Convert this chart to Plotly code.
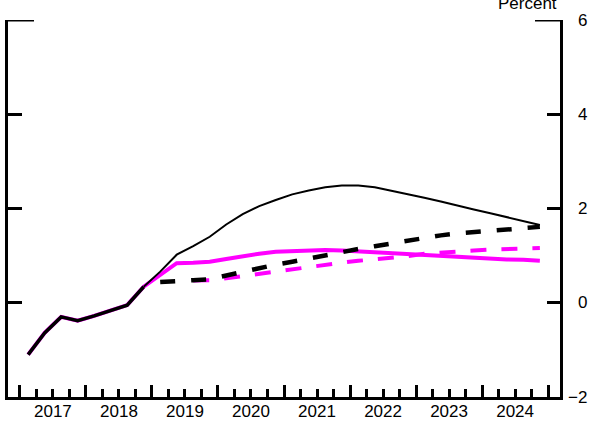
import plotly.graph_objects as go

# ---------------- data (quarterly, percent) ----------------
def quarter_range(start, end):
    out = []
    y, q = int(start[:4]), int(start[5])
    while True:
        lab = f"{y}Q{q}"
        out.append(lab)
        if lab == end:
            break
        q += 1
        if q > 4:
            q, y = 1, y + 1
    return out

hist_quarters = quarter_range("2017Q1", "2018Q4")
history = [-1.1, -0.64, -0.3, -0.38, -0.28, -0.17, -0.05, 0.34]

proj_quarters = quarter_range("2018Q4", "2024Q4")
black_solid = [0.34, 0.66, 1.02, 1.2, 1.4, 1.66, 1.88, 2.05, 2.18, 2.3, 2.38, 2.45,
               2.49, 2.49, 2.45, 2.38, 2.31, 2.23, 2.15, 2.06, 1.98, 1.90, 1.82, 1.73, 1.65]
magenta_solid = [0.34, 0.6, 0.84, 0.85, 0.87, 0.93, 0.99, 1.04, 1.08, 1.1, 1.12, 1.12,
                 1.11, 1.09, 1.07, 1.04, 1.02, 1.0, 0.98, 0.96, 0.95, 0.93, 0.92, 0.91, 0.89]

bdash_quarters = quarter_range("2019Q1", "2024Q4")
black_dashed = [0.44, 0.47, 0.48, 0.5, 0.58, 0.67, 0.74, 0.81, 0.87, 0.94, 1.02, 1.08,
                1.14, 1.2, 1.26, 1.32, 1.37, 1.43, 1.47, 1.5, 1.54, 1.56, 1.58, 1.61]

mdash_quarters = quarter_range("2019Q3", "2024Q4")
magenta_dashed = [0.47, 0.48, 0.52, 0.57, 0.61, 0.67, 0.72, 0.76, 0.8, 0.85, 0.89, 0.92,
                  0.96, 0.99, 1.04, 1.07, 1.09, 1.11, 1.13, 1.14, 1.15, 1.16]

year_labels = ["2017", "2018", "2019", "2020", "2021", "2022", "2023", "2024"]
y_ticks = [-2, 0, 2, 4, 6]
y_ticktext = ["\u22122", "0", "2", "4", "6"]
unit_label = "Percent"


def qx(lab):
    return int(lab[:4]) + (int(lab[5]) - 0.5) / 4.0


MAG = "#FF00FF"
BLK = "#000000"
FONT = "Liberation Sans, Arial, sans-serif"

fig = go.Figure()
fig.add_trace(go.Scatter(x=[qx(q) for q in hist_quarters + proj_quarters[1:]],
                         y=history + magenta_solid[1:], mode="lines",
                         line=dict(color=MAG, width=4), hoverinfo="skip"))
fig.add_trace(go.Scatter(x=[qx(q) for q in mdash_quarters], y=magenta_dashed, mode="lines",
                         line=dict(color=MAG, width=4, dash="16px,15px"), hoverinfo="skip"))
fig.add_trace(go.Scatter(x=[qx(q) for q in bdash_quarters], y=black_dashed, mode="lines",
                         line=dict(color=BLK, width=4.5, dash="15px,16px"), hoverinfo="skip"))
fig.add_trace(go.Scatter(x=[qx(q) for q in proj_quarters], y=black_solid, mode="lines",
                         line=dict(color=BLK, width=2), hoverinfo="skip"))
fig.add_trace(go.Scatter(x=[qx(q) for q in hist_quarters], y=history, mode="lines",
                         line=dict(color=BLK, width=3.5), hoverinfo="skip"))

years = [int(y) for y in year_labels]
xr = [2016.82, 2025.18]
year_bounds = years + [years[-1] + 1]
minor_q = [y + k / 4.0 for y in years for k in (1, 2, 3)]
mid_years = [y + 0.5 for y in years]

# invisible carrier trace so the overlay axes (ticks / right axis) get drawn
fig.add_trace(go.Scatter(x=[mid_years[0]], y=[None], xaxis="x2", yaxis="y2",
                         mode="lines", hoverinfo="skip", showlegend=False))

W, H = 590, 425
ml, mr, mt, mb = 8, 30, 20, 28
pw, ph = W - ml - mr, H - mt - mb

fig.update_layout(
    width=W, height=H, autosize=False,
    margin=dict(l=ml, r=mr, t=mt, b=mb, autoexpand=False),
    paper_bgcolor="white", plot_bgcolor="white",
    showlegend=False,
    font=dict(family=FONT, size=17, color=BLK),
    xaxis=dict(range=xr, showgrid=False, zeroline=False, showline=False,
               tickmode="array", tickvals=mid_years, ticktext=year_labels,
               ticks="", tickfont=dict(size=17), ticklabelstandoff=2),
    xaxis2=dict(range=xr, overlaying="x", anchor="y2", side="bottom",
                showgrid=False, zeroline=False, showline=True, linewidth=3, linecolor=BLK,
                tickmode="array", tickvals=year_bounds, ticks="inside", ticklen=12,
                tickwidth=3, tickcolor=BLK, showticklabels=False,
                minor=dict(tickmode="array", tickvals=minor_q, ticks="inside",
                           ticklen=8, tickwidth=2.5, tickcolor=BLK, showgrid=False)),
    yaxis=dict(range=[-2, 6], showgrid=False, zeroline=False, showline=True,
               linewidth=3, linecolor=BLK, side="left",
               tickmode="array", tickvals=[0, 2, 4], ticks="inside", ticklen=14,
               tickwidth=3, tickcolor=BLK, showticklabels=False),
    yaxis2=dict(range=[-2, 6], overlaying="y", anchor="x2", side="right",
                showgrid=False, zeroline=False, showline=True, linewidth=3, linecolor=BLK,
                tickmode="array", tickvals=[0, 2, 4], ticks="inside", ticklen=13,
                tickwidth=3, tickcolor=BLK, showticklabels=False),
)

# longer tick marks at the top value on both sides
fig.add_shape(type="line", xref="paper", yref="y", x0=0, x1=26 / pw, y0=6, y1=6,
              line=dict(color=BLK, width=3))
fig.add_shape(type="line", xref="paper", yref="y", x0=1 - 25 / pw, x1=1, y0=6, y1=6,
              line=dict(color=BLK, width=3))

# right-side value labels (right aligned)
for v, t in zip(y_ticks, y_ticktext):
    fig.add_annotation(x=(589 - ml) / pw, y=v, xref="paper", yref="y", text=t,
                       showarrow=False, xanchor="right", yanchor="middle",
                       font=dict(size=17, family=FONT, color=BLK))

fig.add_annotation(x=(559 - ml) / pw, y=1 + 4.5 / ph, xref="paper", yref="paper",
                   text=unit_label, showarrow=False, xanchor="right", yanchor="bottom",
                   font=dict(size=17, family=FONT, color=BLK))

fig.write_html("out.html", config={"displayModeBar": False},
               post_script="document.body.style.margin='0';document.body.style.padding='0';")
